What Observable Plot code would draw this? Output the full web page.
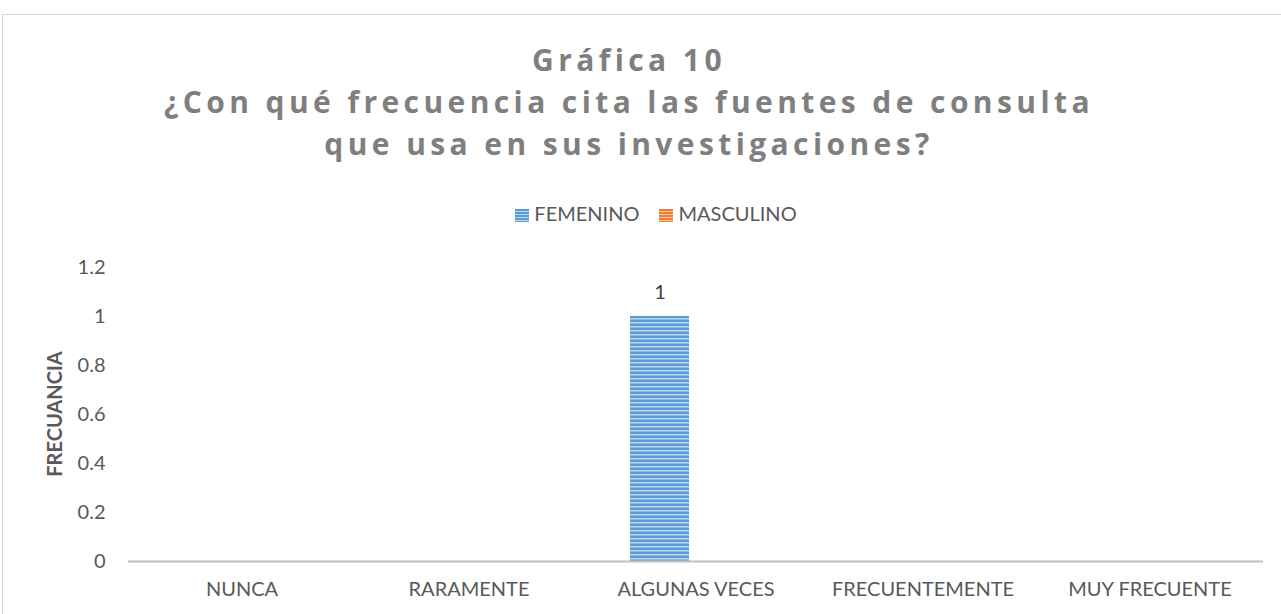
<!DOCTYPE html>
<html>
<head>
<meta charset="utf-8">
<script src="https://cdn.jsdelivr.net/npm/d3@7"></script>
<script src="https://cdn.jsdelivr.net/npm/@observablehq/plot@0.6"></script>
<style>
  html, body { margin: 0; padding: 0; background: #fff; width: 1281px; height: 614px; overflow: hidden; }
  #frame { position: absolute; left: 2px; top: 14px; width: 1300px; height: 640px; border: 1px solid #d9d9d9; box-sizing: border-box; }
  #title { position: absolute; left: 0; top: 39px; width: 1258px; text-align: center; font-family: "Open Sans", sans-serif; font-weight: bold; font-size: 30px; line-height: 42px; color: #7f7f7f; letter-spacing: 4.4px; }
  #legend { position: absolute; left: 0; top: 201px; width: 1312px; text-align: center; font-family: Lato, sans-serif; font-size: 20px; color: #595959; white-space: nowrap; }
  .item { display: inline-block; margin: 0 10px; }
  .sw { display: inline-block; width: 14px; height: 13px; margin-right: 5px; vertical-align: -1px; }
  #chart { position: absolute; left: 0; top: 240px; }
</style>
</head>
<body>
<div id="frame"></div>
<div id="title">Gráfica 10<br>¿Con qué frecuencia cita las fuentes de consulta<br>que usa en sus investigaciones?</div>
<div id="legend"></div>
<div id="chart"></div>
<script>
const categories = ["NUNCA", "RARAMENTE", "ALGUNAS VECES", "FRECUENTEMENTE", "MUY FRECUENTE"];
const series = ["FEMENINO", "MASCULINO"];
const femenino = [0, 0, 1, 0, 0];
const masculino = [0, 0, 0, 0, 0];
const yTicks = [0, 0.2, 0.4, 0.6, 0.8, 1, 1.2];
const yLabel = "FRECUANCIA";

const seriesColors = { FEMENINO: ["#5b9bd5", "#bdd7ee"], MASCULINO: ["#ed7d31", "#f8cbad"] };
const patternIds = { FEMENINO: "patF", MASCULINO: "patM" };

const data = [];
categories.forEach((c, i) => {
  data.push({ cat: c, serie: series[0], value: femenino[i] });
  data.push({ cat: c, serie: series[1], value: masculino[i] });
});

// legend
const leg = document.getElementById("legend");
series.forEach(s => {
  const [a, b] = seriesColors[s];
  const it = document.createElement("span");
  it.className = "item";
  const sw = document.createElement("span");
  sw.className = "sw";
  sw.style.background = `repeating-linear-gradient(to bottom, ${a} 0px, ${a} 2px, ${b} 2px, ${b} 3px)`;
  it.appendChild(sw);
  it.appendChild(document.createTextNode(s));
  leg.appendChild(it);
});

const font = "Lato, sans-serif";
const chart = Plot.plot({
  width: 1281,
  height: 374,
  marginLeft: 128,
  marginRight: 18,
  marginTop: 27,
  marginBottom: 53,
  style: { fontFamily: font, fontSize: "20px", color: "#595959", background: "transparent" },
  fx: { domain: categories, padding: 0, label: null, axis: "bottom", tickSize: 0, tickPadding: 20 },
  x: { domain: series, paddingInner: 0, paddingOuter: 0.92, align: 0.44, axis: null },
  y: { domain: [0, 1.2], ticks: yTicks, label: null, axis: null },
  marks: [
    Plot.axisY({ ticks: yTicks, tickSize: 0, tickPadding: 23, tickFormat: d => String(d), fontSize: 20, label: null }),
    Plot.barY(data, { fx: "cat", x: "serie", y: "value", fill: d => "url(#" + patternIds[d.serie] + ")" }),
    Plot.ruleY([0], { stroke: "#bfbfbf", strokeWidth: 2 }),
    Plot.text(data.filter(d => d.value > 0), { fx: "cat", x: "serie", y: "value", text: d => String(d.value), dy: -24, fontSize: 20, fill: "#404040" })
  ]
});

// pattern defs
const svgNS = "http://www.w3.org/2000/svg";
const defs = document.createElementNS(svgNS, "defs");
series.forEach(s => {
  const [a, b] = seriesColors[s];
  const p = document.createElementNS(svgNS, "pattern");
  p.setAttribute("id", patternIds[s]);
  p.setAttribute("patternUnits", "userSpaceOnUse");
  p.setAttribute("width", 8);
  p.setAttribute("height", 4);
  const r1 = document.createElementNS(svgNS, "rect");
  r1.setAttribute("width", 8); r1.setAttribute("height", 4); r1.setAttribute("fill", a);
  const r2 = document.createElementNS(svgNS, "rect");
  r2.setAttribute("y", 2); r2.setAttribute("width", 8); r2.setAttribute("height", 1.5); r2.setAttribute("fill", b);
  p.appendChild(r1); p.appendChild(r2);
  defs.appendChild(p);
});
chart.insertBefore(defs, chart.firstChild);

// y label
const lab = document.createElementNS(svgNS, "text");
lab.setAttribute("transform", "translate(62,174) rotate(-90)");
lab.setAttribute("text-anchor", "middle");
lab.setAttribute("font-weight", "bold");
lab.setAttribute("font-size", "20");
lab.setAttribute("font-family", font);
lab.setAttribute("fill", "#595959");
lab.textContent = yLabel;
chart.appendChild(lab);

document.getElementById("chart").appendChild(chart);
</script>
</body>
</html>
